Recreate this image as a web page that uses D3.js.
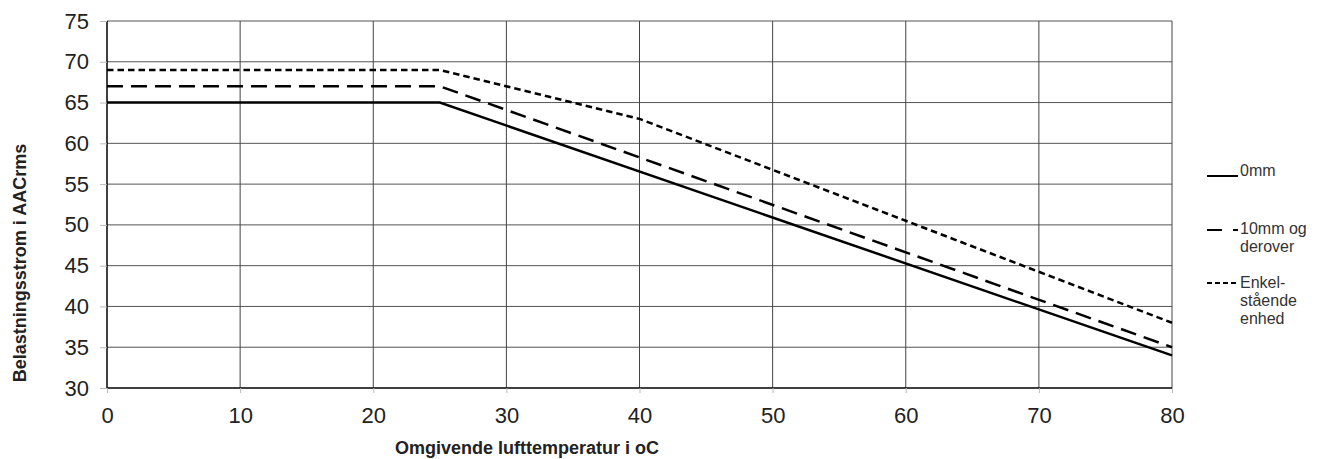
<!DOCTYPE html>
<html>
<head>
<meta charset="utf-8">
<script src="https://cdn.jsdelivr.net/npm/d3@7"></script>
<style>
  body { margin: 0; background: #fff; }
  text { font-family: "Liberation Sans", Arial, sans-serif; }
</style>
</head>
<body>
<div id="chart"></div>
<script>
// Data
const xTicks = [0, 10, 20, 30, 40, 50, 60, 70, 80];
const yTicks = [30, 35, 40, 45, 50, 55, 60, 65, 70, 75];
const temp0mm = [0, 25, 80];
const load0mm = [65, 65, 34];
const temp10mm = [0, 25, 80];
const load10mm = [67, 67, 35];
const tempSingle = [0, 25, 40, 80];
const loadSingle = [69, 69, 63, 38];
const legendLabels = [['0mm'], ['10mm og', 'derover'], ['Enkel-', 'stående', 'enhed']];

const width = 1322, height = 459;

const svg = d3.select('#chart').append('svg')
    .attr('width', width)
    .attr('height', height);

const x = d3.scaleLinear().domain([0, 80]).range([107, 1172]);
const y = d3.scaleLinear().domain([30, 75]).range([388, 21]);

// Grid lines
svg.append('g').selectAll('line')
    .data(yTicks.filter(d => d > 30))
    .enter().append('line')
    .attr('x1', x(0)).attr('x2', x(80))
    .attr('y1', d => y(d)).attr('y2', d => y(d))
    .attr('stroke', '#555').attr('stroke-width', 1);

svg.append('g').selectAll('line')
    .data(xTicks.filter(d => d > 0))
    .enter().append('line')
    .attr('x1', d => x(d)).attr('x2', d => x(d))
    .attr('y1', y(75)).attr('y2', y(30))
    .attr('stroke', '#444').attr('stroke-width', 1);

// Axes
const yAxis = svg.append('g')
    .attr('transform', `translate(${x(0)},0)`)
    .call(d3.axisLeft(y).tickValues(yTicks).tickSize(7).tickPadding(11));
const xAxis = svg.append('g')
    .attr('transform', `translate(0,${y(30)})`)
    .call(d3.axisBottom(x).tickValues(xTicks).tickSize(5).tickPadding(14));

[yAxis, xAxis].forEach(g => {
    g.select('.domain').attr('stroke', '#000').attr('stroke-width', 1.5);
    g.selectAll('.tick line').attr('stroke', '#bbb');
    g.selectAll('.tick text')
        .attr('font-size', '22px')
        .attr('fill', '#222')
        .attr('font-family', '"Liberation Sans", Arial, sans-serif');
});
xAxis.select('.domain').attr('d', `M${x(0)},0H${x(80)}`);
yAxis.select('.domain').attr('d', `M0,${y(30)}V${y(75)}`);

// Axis titles
svg.append('text')
    .attr('x', 527).attr('y', 454)
    .attr('text-anchor', 'middle')
    .attr('font-size', '18px').attr('font-weight', 'bold').attr('fill', '#222')
    .text('Omgivende lufttemperatur i oC');

svg.append('text')
    .attr('transform', 'translate(26,263) rotate(-90)')
    .attr('text-anchor', 'middle')
    .attr('font-size', '18px').attr('font-weight', 'bold').attr('fill', '#222')
    .text('Belastningsstrom i AACrms');

// Series lines
const line = d3.line().x(d => x(d[0])).y(d => y(d[1]));
const series = [
    { pts: d3.zip(temp0mm, load0mm), dash: null },
    { pts: d3.zip(temp10mm, load10mm), dash: '16,8' },
    { pts: d3.zip(tempSingle, loadSingle), dash: '6.5,4' }
];
svg.append('g').selectAll('path')
    .data(series)
    .enter().append('path')
    .attr('d', d => line(d.pts))
    .attr('fill', 'none')
    .attr('stroke', '#000')
    .attr('stroke-width', 2.5)
    .attr('stroke-dasharray', d => d.dash);

// Legend
const legendRows = [
    { lines: legendLabels[0], lineY: 176, textY: 176, dash: null },
    { lines: legendLabels[1], lineY: 230, textY: 234, dash: '15,11,5' },
    { lines: legendLabels[2], lineY: 283, textY: 288, dash: '5,3' }
];
const legend = svg.append('g');
legendRows.forEach(r => {
    legend.append('line')
        .attr('x1', 1207).attr('x2', 1238)
        .attr('y1', r.lineY).attr('y2', r.lineY)
        .attr('stroke', '#000').attr('stroke-width', 2)
        .attr('stroke-dasharray', r.dash);
    legend.append('text')
        .attr('y', r.textY)
        .attr('font-size', '16px').attr('fill', '#333')
        .selectAll('tspan')
        .data(r.lines)
        .enter().append('tspan')
        .attr('x', 1240)
        .attr('dy', (d, j) => j === 0 ? 0 : 18)
        .text(d => d);
});
</script>
</body>
</html>
